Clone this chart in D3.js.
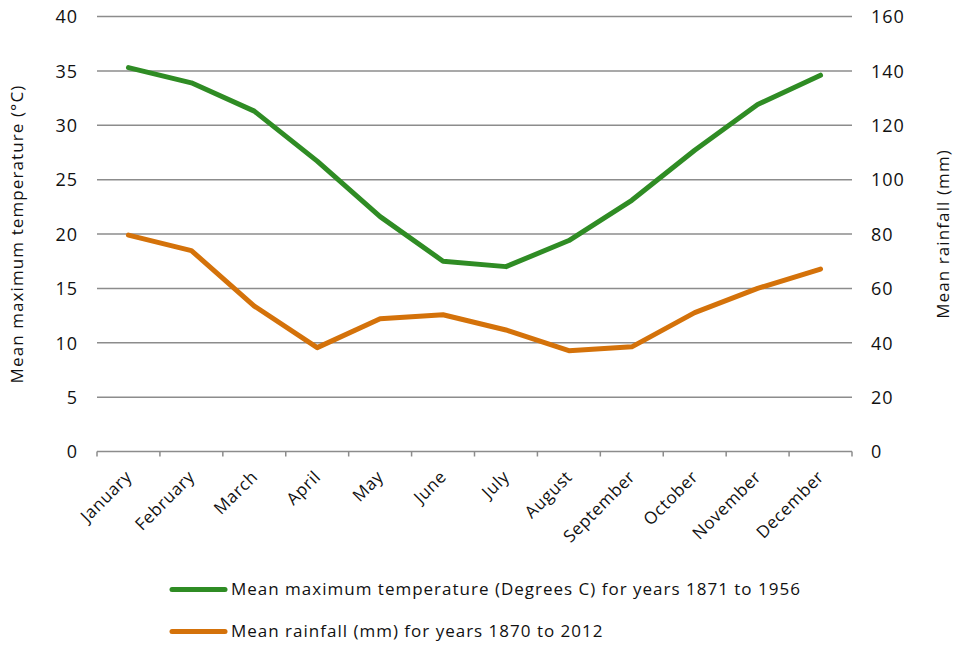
<!DOCTYPE html>
<html>
<head>
<meta charset="utf-8">
<script src="https://cdn.jsdelivr.net/npm/d3@7"></script>
<style>
  body { margin: 0; background: #fff; }
  text { font-family: "Open Sans", sans-serif; fill: #111; }
</style>
</head>
<body>
<svg id="svg" width="953" height="650"></svg>
<script>
var months = ["January","February","March","April","May","June","July","August","September","October","November","December"];
var tempValues = [35.3, 33.9, 31.3, 26.7, 21.6, 17.5, 17.0, 19.4, 23.1, 27.7, 31.9, 34.6];
var rainValues = [79.6, 73.9, 53.5, 38.2, 48.8, 50.3, 44.7, 37.1, 38.5, 51.1, 60.0, 67.1];
var tempTicks = [0, 5, 10, 15, 20, 25, 30, 35, 40];
var rainTicks = [0, 20, 40, 60, 80, 100, 120, 140, 160];
var legendLabels = ["Mean maximum temperature (Degrees C) for years 1871 to 1956",
                    "Mean rainfall (mm) for years 1870 to 2012"];

var green = "#2f8c24";
var orange = "#d4720a";

function drawChart() {
    var svg = d3.select("#svg");
    var plotLeft = 97, plotRight = 852, plotTop = 16.5, plotBottom = 451.5;

    var x = d3.scaleBand().domain(months).range([plotLeft, plotRight]);
    var yT = d3.scaleLinear().domain([0, 40]).range([plotBottom, plotTop]);
    var yR = d3.scaleLinear().domain([0, 160]).range([plotBottom, plotTop]);

    // gridlines
    svg.append("g").selectAll("line")
        .data(tempTicks.filter(function(d) { return d > 0; }))
        .enter().append("line")
        .attr("x1", plotLeft).attr("x2", plotRight)
        .attr("y1", function(d) { return yT(d); })
        .attr("y2", function(d) { return yT(d); })
        .attr("stroke", "#8c8c8c").attr("stroke-width", 1.5);

    // left axis labels
    var leftAxis = svg.append("g")
        .attr("transform", "translate(" + (plotLeft - 19) + ",0)")
        .call(d3.axisLeft(yT).tickValues(tempTicks).tickSize(0).tickPadding(0));
    leftAxis.select(".domain").remove();
    leftAxis.selectAll("text").style("font-size", "18px").style("letter-spacing", "1px")
        .attr("dy", "0.35em");

    // right axis labels
    var rightAxis = svg.append("g")
        .attr("transform", "translate(" + (plotRight + 19) + ",0)")
        .call(d3.axisRight(yR).tickValues(rainTicks).tickSize(0).tickPadding(0));
    rightAxis.select(".domain").remove();
    rightAxis.selectAll("text").style("font-size", "18px").style("letter-spacing", "1px")
        .attr("dy", "0.35em");
    svg.selectAll(".tick text").style("font-family", "'Open Sans', sans-serif").style("fill", "#111");

    // base axis with category ticks
    svg.append("line")
        .attr("x1", plotLeft).attr("x2", plotRight)
        .attr("y1", plotBottom).attr("y2", plotBottom)
        .attr("stroke", "#8c8c8c").attr("stroke-width", 1.5);
    var bounds = months.map(function(m) { return x(m); }).concat([plotRight]);
    svg.append("g").selectAll("line")
        .data(bounds).enter().append("line")
        .attr("x1", function(d) { return d; }).attr("x2", function(d) { return d; })
        .attr("y1", plotBottom).attr("y2", plotBottom + 5)
        .attr("stroke", "#8c8c8c").attr("stroke-width", 1.5);

    // month labels
    svg.append("g").selectAll("text")
        .data(months).enter().append("text")
        .attr("transform", function(d) {
            return "translate(" + (x(d) + x.bandwidth() / 2 - 4) + "," + (plotBottom + 18) + ") rotate(-45)";
        })
        .attr("text-anchor", "end")
        .attr("dy", "0.7em")
        .style("font-size", "17px")
        .style("letter-spacing", "0.6px")
        .text(function(d) { return d; });

    // axis titles
    svg.append("text")
        .attr("transform", "translate(23," + ((plotTop + plotBottom) / 2) + ") rotate(-90)")
        .attr("text-anchor", "middle")
        .style("font-size", "17px")
        .style("letter-spacing", "1.1px")
        .text("Mean maximum temperature (°C)");
    svg.append("text")
        .attr("transform", "translate(949," + ((plotTop + plotBottom) / 2) + ") rotate(-90)")
        .attr("text-anchor", "middle")
        .style("font-size", "17px")
        .style("letter-spacing", "1.1px")
        .text("Mean rainfall (mm)");

    // lines
    var cx = function(d, i) { return x(months[i]) + x.bandwidth() / 2; };
    svg.append("path")
        .datum(tempValues)
        .attr("d", d3.line().x(cx).y(function(d) { return yT(d); }))
        .attr("fill", "none").attr("stroke", green)
        .attr("stroke-width", 5).attr("stroke-linecap", "round").attr("stroke-linejoin", "round");
    svg.append("path")
        .datum(rainValues)
        .attr("d", d3.line().x(cx).y(function(d) { return yR(d); }))
        .attr("fill", "none").attr("stroke", orange)
        .attr("stroke-width", 5).attr("stroke-linecap", "round").attr("stroke-linejoin", "round");

    // legend
    var legend = svg.append("g").selectAll("g")
        .data(legendLabels).enter().append("g")
        .attr("transform", function(d, i) { return "translate(0," + (589.5 + i * 42) + ")"; });
    legend.append("line")
        .attr("x1", 172).attr("x2", 225).attr("y1", 0).attr("y2", 0)
        .attr("stroke", function(d, i) { return i === 0 ? green : orange; })
        .attr("stroke-width", 5).attr("stroke-linecap", "round");
    legend.append("text")
        .attr("x", 231).attr("y", 0).attr("dy", "0.35em")
        .style("font-size", "17px")
        .style("letter-spacing", "1px")
        .text(function(d) { return d; });
}

drawChart();
</script>
</body>
</html>
